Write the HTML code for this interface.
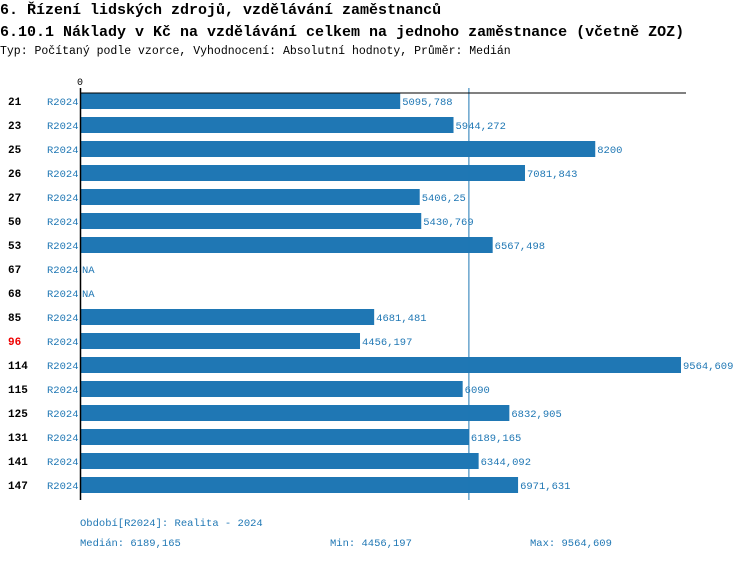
<!DOCTYPE html>
<html><head><meta charset="utf-8"><style>
body{margin:0;background:#fff;width:750px;height:560px;overflow:hidden;font-family:"Liberation Mono",monospace}
svg text{font-family:"Liberation Mono","DejaVu Sans Mono",monospace}
</style></head><body>
<svg id="c" width="750" height="560">
<text x="0" y="14" font-size="15" font-weight="bold">6. Řízení lidských zdrojů, vzdělávání zaměstnanců</text>
<text x="0" y="36" font-size="15" font-weight="bold">6.10.1 Náklady v Kč na vzdělávání celkem na jednoho zaměstnance (včetně ZOZ)</text>
<text x="0" y="54" font-size="11.5">Typ: Počítaný podle vzorce, Vyhodnocení: Absolutní hodnoty, Průměr: Medián</text>
<text x="77" y="85" font-size="10">0</text>
<g id="bars"></g>
<text x="80" y="526" font-size="10.5" fill="#1f77b4">Období[R2024]: Realita - 2024</text>
<text x="80" y="546" font-size="10.5" fill="#1f77b4">Medián: 6189,165</text>
<text x="330" y="546" font-size="10.5" fill="#1f77b4">Min: 4456,197</text>
<text x="530" y="546" font-size="10.5" fill="#1f77b4">Max: 9564,609</text>
</svg>
<script>
const categories=["21","23","25","26","27","50","53","67","68","85","96","114","115","125","131","141","147"];
const values=[5095.788,5944.272,8200,7081.843,5406.25,5430.769,6567.498,null,null,4681.481,4456.197,9564.609,6090,6832.905,6189.165,6344.092,6971.631];
const labels=["5095,788","5944,272","8200","7081,843","5406,25","5430,769","6567,498","NA","NA","4681,481","4456,197","9564,609","6090","6832,905","6189,165","6344,092","6971,631"];
const highlight=["96"];
const median=6189.165, maxV=9564.609;
const ns="http://www.w3.org/2000/svg";
const g=document.getElementById('bars');
const x0=80, w=601;
const xs=v=>x0+v/maxV*w;
const ys=i=>93+i*24;
function mk(t,a){const e=document.createElementNS(ns,t);for(const k in a)e.setAttribute(k,a[k]);g.appendChild(e);return e;}
categories.forEach((c,i)=>{
  const y=ys(i);
  const t1=mk('text',{x:8,y:y+12,'font-size':11,'font-weight':'bold',fill:highlight.includes(c)?'#e00':'#000'});
  t1.textContent=c;
  
  
  const t2=mk('text',{x:47,y:y+12,'font-size':10.5,fill:'#1f77b4'});
  t2.textContent='R2024';
  
  
  const v=values[i];
  let end=x0;
  if(v!=null){
    const r=mk('rect',{x:x0,y:y,width:xs(v)-x0,height:16,fill:'#1f77b4'});
    
    
    end=xs(v);
  }
  const t3=mk('text',{x:end+2,y:y+12,'font-size':10.5,fill:'#1f77b4'});
  t3.textContent=labels[i];
  
  
});
const ml=mk('line',{x1:xs(median),x2:xs(median),y1:88,y2:500,stroke:'#1f77b4','stroke-width':1});


const ax=mk('line',{x1:80,x2:686,y1:93,y2:93,stroke:'#000','stroke-width':1});


const ay=mk('line',{x1:80.5,x2:80.5,y1:88,y2:500,stroke:'#000','stroke-width':1.5});


</script>
</body></html>
